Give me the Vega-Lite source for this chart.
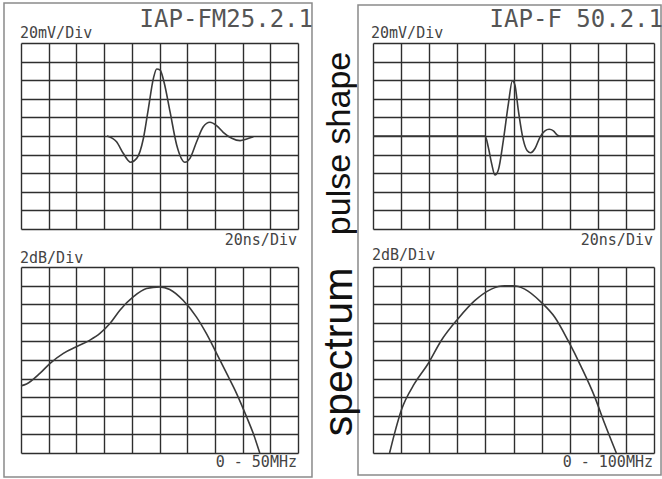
{
  "$schema": "https://vega.github.io/schema/vega-lite/v6.json",
  "background": "white",
  "padding": {"left": 3, "top": 2, "right": 0, "bottom": 0},
  "autosize": {"type": "pad"},
  "datasets": {
    "pulse25": [
      {"time": 3.1, "amplitude": 0.0},
      {"time": 3.45, "amplitude": -0.31},
      {"time": 3.69, "amplitude": -0.93},
      {"time": 3.96, "amplitude": -1.41},
      {"time": 4.18, "amplitude": -1.2},
      {"time": 4.42, "amplitude": -0.12},
      {"time": 4.6, "amplitude": 1.49},
      {"time": 4.78, "amplitude": 3.1},
      {"time": 4.9, "amplitude": 3.6},
      {"time": 5.02, "amplitude": 3.55},
      {"time": 5.16, "amplitude": 2.92},
      {"time": 5.38, "amplitude": 1.31},
      {"time": 5.62, "amplitude": -0.48},
      {"time": 5.92, "amplitude": -1.41},
      {"time": 6.1, "amplitude": -1.2},
      {"time": 6.34, "amplitude": -0.31},
      {"time": 6.58, "amplitude": 0.5},
      {"time": 6.82, "amplitude": 0.74},
      {"time": 7.07, "amplitude": 0.55},
      {"time": 7.3, "amplitude": 0.2},
      {"time": 7.61, "amplitude": -0.12},
      {"time": 7.91, "amplitude": -0.25},
      {"time": 8.15, "amplitude": -0.16},
      {"time": 8.39, "amplitude": -0.04}
    ],
    "pulse50": [
      {"time": 0.0, "amplitude": 0.0},
      {"time": 3.99, "amplitude": 0.0},
      {"time": 4.1, "amplitude": -0.58},
      {"time": 4.22, "amplitude": -1.47},
      {"time": 4.34, "amplitude": -2.1},
      {"time": 4.46, "amplitude": -1.83},
      {"time": 4.64, "amplitude": -0.22},
      {"time": 4.82, "amplitude": 1.76},
      {"time": 4.96, "amplitude": 2.97},
      {"time": 5.05, "amplitude": 2.74},
      {"time": 5.17, "amplitude": 1.4},
      {"time": 5.35, "amplitude": -0.22},
      {"time": 5.49, "amplitude": -0.79},
      {"time": 5.61, "amplitude": -0.9},
      {"time": 5.77, "amplitude": -0.66},
      {"time": 5.94, "amplitude": -0.07},
      {"time": 6.12, "amplitude": 0.28},
      {"time": 6.27, "amplitude": 0.36},
      {"time": 6.42, "amplitude": 0.28},
      {"time": 6.56, "amplitude": 0.05},
      {"time": 6.65, "amplitude": 0.0},
      {"time": 10.0, "amplitude": 0.0}
    ],
    "spec25": [
      {"freq": 0.0, "level": 3.61},
      {"freq": 0.2, "level": 3.71},
      {"freq": 0.69, "level": 4.29},
      {"freq": 1.05, "level": 4.82},
      {"freq": 1.53, "level": 5.36},
      {"freq": 2.0, "level": 5.71},
      {"freq": 2.49, "level": 6.07},
      {"freq": 2.85, "level": 6.43},
      {"freq": 3.21, "level": 6.96},
      {"freq": 3.57, "level": 7.68},
      {"freq": 4.05, "level": 8.39},
      {"freq": 4.53, "level": 8.84},
      {"freq": 5.01, "level": 8.93},
      {"freq": 5.37, "level": 8.79},
      {"freq": 5.85, "level": 8.21},
      {"freq": 6.33, "level": 7.32},
      {"freq": 6.69, "level": 6.43},
      {"freq": 7.06, "level": 5.36},
      {"freq": 7.42, "level": 4.29},
      {"freq": 7.78, "level": 3.21},
      {"freq": 8.14, "level": 1.96},
      {"freq": 8.38, "level": 1.07},
      {"freq": 8.62, "level": 0.0}
    ],
    "spec50": [
      {"freq": 0.59, "level": 0.0},
      {"freq": 0.77, "level": 1.07},
      {"freq": 1.01, "level": 2.31},
      {"freq": 1.48, "level": 3.74},
      {"freq": 1.96, "level": 4.8},
      {"freq": 2.43, "level": 6.05},
      {"freq": 3.02, "level": 7.21},
      {"freq": 3.62, "level": 8.19},
      {"freq": 4.21, "level": 8.81},
      {"freq": 4.69, "level": 8.99},
      {"freq": 4.98, "level": 8.99},
      {"freq": 5.4, "level": 8.81},
      {"freq": 5.99, "level": 8.1},
      {"freq": 6.47, "level": 7.3},
      {"freq": 6.94, "level": 6.05},
      {"freq": 7.41, "level": 4.63},
      {"freq": 7.89, "level": 3.02},
      {"freq": 8.24, "level": 1.6},
      {"freq": 8.66, "level": 0.0}
    ]
  },
  "config": {
    "view": {"stroke": null},
    "axis": {
      "labels": false, "ticks": false, "domain": false, "grid": true, "tickCount": 30,
      "gridColor": "#2e2e2e", "gridWidth": 1.4, "gridOpacity": 1
    },
    "line": {"color": "#3a3a3a", "strokeWidth": 1.6, "interpolate": "monotone"},
    "text": {"font": "DejaVu Sans Mono", "fontSize": 15, "color": "#444444"}
  },
  "bounds": "flush",
  "columns": 3,
  "spacing": {"row": 38, "column": 17.5},
  "concat": [
    {
      "width": 277, "height": 186,
      "layer": [
        {
          "data": {"name": "pulse25"},
          "mark": {"type": "line"},
          "encoding": {
            "x": {"field": "time", "type": "quantitative", "title": null, "scale": {"domain": [0, 10], "nice": false}, "axis": {"values": [0,1,2,3,4,5,6,7,8,9,10], "tickCount": 30}},
            "y": {"field": "amplitude", "type": "quantitative", "title": null, "scale": {"domain": [-5, 5], "nice": false}, "axis": {"values": [-5,-4,-3,-2,-1,0,1,2,3,4,5], "tickCount": 30}}
          }
        },
        {
          "data": {"values": [{}]},
          "mark": {"type": "rect", "fillOpacity": 0, "stroke": "#8a8a8a", "strokeWidth": 1.5},
          "encoding": {"x": {"datum": -0.614}, "x2": {"datum": 10.505}, "y": {"datum": 7.15}, "y2": {"datum": -18.33}}
        },
        {
          "data": {"values": [{}]},
          "mark": {"type": "text", "align": "left", "baseline": "middle", "dx": -1, "dy": -10, "text": "20mV/Div"},
          "encoding": {"x": {"datum": 0}, "y": {"datum": 5}}
        },
        {
          "data": {"values": [{}]},
          "mark": {"type": "text", "align": "right", "baseline": "alphabetic", "dx": 15, "dy": -16, "fontSize": 24, "color": "#555555", "text": "IAP-FM25.2.1"},
          "encoding": {"x": {"datum": 10}, "y": {"datum": 5}}
        },
        {
          "data": {"values": [{}]},
          "mark": {"type": "text", "align": "right", "baseline": "middle", "dx": -1, "dy": 11, "text": "20ns/Div"},
          "encoding": {"x": {"datum": 10}, "y": {"datum": -5}}
        }
      ]
    },
    {
      "width": 40, "height": 186,
      "data": {"values": [{}]},
      "mark": {"type": "text", "angle": 270, "align": "center", "baseline": "middle", "font": "Liberation Sans", "fontSize": 34, "color": "#111111", "text": "pulse shape"},
      "encoding": {"x": {"datum": 0.61, "type": "quantitative", "scale": {"domain": [0, 1]}, "axis": null}, "y": {"datum": 4.6, "type": "quantitative", "scale": {"domain": [0, 10]}, "axis": null}}
    },
    {
      "width": 281, "height": 186,
      "layer": [
        {
          "data": {"name": "pulse50"},
          "mark": {"type": "line"},
          "encoding": {
            "x": {"field": "time", "type": "quantitative", "title": null, "scale": {"domain": [0, 10], "nice": false}, "axis": {"values": [0,1,2,3,4,5,6,7,8,9,10], "tickCount": 30}},
            "y": {"field": "amplitude", "type": "quantitative", "title": null, "scale": {"domain": [-5, 5], "nice": false}, "axis": {"values": [-5,-4,-3,-2,-1,0,1,2,3,4,5], "tickCount": 30}}
          }
        },
        {
          "data": {"values": [{}]},
          "mark": {"type": "rect", "fillOpacity": 0, "stroke": "#8a8a8a", "strokeWidth": 1.5},
          "encoding": {"x": {"datum": -0.534}, "x2": {"datum": 10.25}, "y": {"datum": 7.04}, "y2": {"datum": -18.23}}
        },
        {
          "data": {"values": [{}]},
          "mark": {"type": "text", "align": "left", "baseline": "middle", "dx": -2, "dy": -10, "text": "20mV/Div"},
          "encoding": {"x": {"datum": 0}, "y": {"datum": 5}}
        },
        {
          "data": {"values": [{}]},
          "mark": {"type": "text", "align": "right", "baseline": "alphabetic", "dx": 9, "dy": -16, "fontSize": 24, "color": "#555555", "text": "IAP-F 50.2.1"},
          "encoding": {"x": {"datum": 10}, "y": {"datum": 5}}
        },
        {
          "data": {"values": [{}]},
          "mark": {"type": "text", "align": "right", "baseline": "middle", "dx": -1, "dy": 11, "text": "20ns/Div"},
          "encoding": {"x": {"datum": 10}, "y": {"datum": -5}}
        }
      ]
    },
    {
      "width": 277, "height": 186,
      "layer": [
        {
          "data": {"name": "spec25"},
          "mark": {"type": "line"},
          "encoding": {
            "x": {"field": "freq", "type": "quantitative", "title": null, "scale": {"domain": [0, 10], "nice": false}, "axis": {"values": [0,1,2,3,4,5,6,7,8,9,10], "tickCount": 30}},
            "y": {"field": "level", "type": "quantitative", "title": null, "scale": {"domain": [0, 10], "nice": false}, "axis": {"values": [0,1,2,3,4,5,6,7,8,9,10], "tickCount": 30}}
          }
        },
        {
          "data": {"values": [{}]},
          "mark": {"type": "text", "align": "left", "baseline": "middle", "dx": -1, "dy": -9, "text": "2dB/Div"},
          "encoding": {"x": {"datum": 0}, "y": {"datum": 10}}
        },
        {
          "data": {"values": [{}]},
          "mark": {"type": "text", "align": "right", "baseline": "middle", "dx": -1, "dy": 9, "text": "0 - 50MHz"},
          "encoding": {"x": {"datum": 10}, "y": {"datum": 0}}
        }
      ]
    },
    {
      "width": 40, "height": 186,
      "data": {"values": [{}]},
      "mark": {"type": "text", "angle": 270, "align": "center", "baseline": "middle", "font": "Liberation Sans", "fontSize": 41, "color": "#111111", "text": "spectrum"},
      "encoding": {"x": {"datum": 0.61, "type": "quantitative", "scale": {"domain": [0, 1]}, "axis": null}, "y": {"datum": 5.43, "type": "quantitative", "scale": {"domain": [0, 10]}, "axis": null}}
    },
    {
      "width": 281, "height": 186,
      "layer": [
        {
          "data": {"name": "spec50"},
          "mark": {"type": "line"},
          "encoding": {
            "x": {"field": "freq", "type": "quantitative", "title": null, "scale": {"domain": [0, 10], "nice": false}, "axis": {"values": [0,1,2,3,4,5,6,7,8,9,10], "tickCount": 30}},
            "y": {"field": "level", "type": "quantitative", "title": null, "scale": {"domain": [0, 10], "nice": false}, "axis": {"values": [0,1,2,3,4,5,6,7,8,9,10], "tickCount": 30}}
          }
        },
        {
          "data": {"values": [{}]},
          "mark": {"type": "text", "align": "left", "baseline": "middle", "dx": -1, "dy": -12, "text": "2dB/Div"},
          "encoding": {"x": {"datum": 0}, "y": {"datum": 10}}
        },
        {
          "data": {"values": [{}]},
          "mark": {"type": "text", "align": "right", "baseline": "middle", "dx": -1, "dy": 9, "text": "0 - 100MHz"},
          "encoding": {"x": {"datum": 10}, "y": {"datum": 0}}
        }
      ]
    }
  ]
}
